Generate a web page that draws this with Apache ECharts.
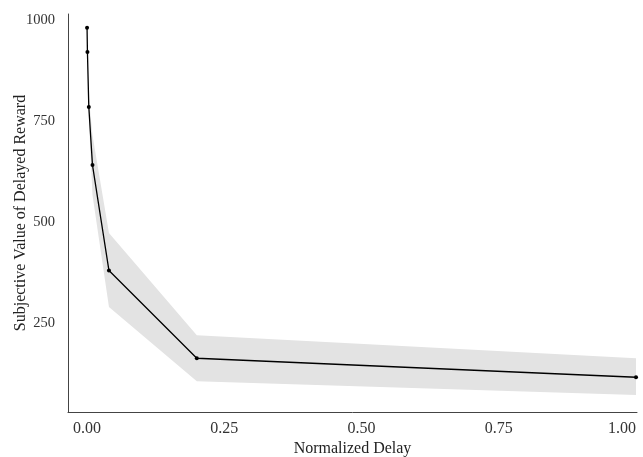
<!DOCTYPE html>
<html>
<head>
<meta charset="utf-8">
<script src="https://cdn.jsdelivr.net/npm/echarts@6/dist/echarts.min.js"></script>
<style>html,body{margin:0;padding:0;background:#fff}#c{width:643px;height:457px}</style>
</head>
<body>
<div id="c"></div>
<script>
const delay = [0.0001, 0.0008, 0.0033, 0.0100, 0.0400, 0.2000, 1.0000];
const value = [981, 921, 785, 641, 380, 163, 116];
const upper = [990, 935, 810, 715, 473, 220, 163];
const lower = [972, 907, 760, 567, 290, 106, 72];
const xTicks = [0, 0.25, 0.5, 0.75, 1.0];
const yTicks = [250, 500, 750, 1000];

const font = 'Liberation Serif, Times New Roman, serif';
const chart = echarts.init(document.getElementById('c'));
chart.setOption({
  animation: false,
  grid: { left: 68, right: 6, top: 14, bottom: 45, containLabel: false, outerBoundsMode: 'none' },
  xAxis: {
    type: 'value', min: -0.0346, max: 1.0018,
    name: 'Normalized Delay', nameLocation: 'middle', nameGap: 29, nameMoveOverlap: false,
    nameTextStyle: { fontFamily: font, fontSize: 16, color: '#222' },
    axisLine: { show: true, onZero: false, lineStyle: { color: '#444', width: 1 } },
    axisTick: { show: false },
    splitLine: { show: false },
    axisLabel: {
      customValues: xTicks, fontFamily: font, fontSize: 16, color: '#333', margin: 9,
      alignMaxLabel: 'right',
      formatter: v => v.toFixed(2)
    }
  },
  yAxis: {
    type: 'value', min: 30, max: 1015,
    name: 'Subjective Value of Delayed Reward', nameLocation: 'middle', nameGap: 39, nameMoveOverlap: false,
    nameTextStyle: { fontFamily: font, fontSize: 16, color: '#222' },
    axisLine: { show: true, onZero: false, lineStyle: { color: '#444', width: 1 } },
    axisTick: { show: false },
    splitLine: { show: false },
    axisLabel: {
      customValues: yTicks, fontFamily: font, fontSize: 14.5, color: '#333', margin: 13,
      formatter: v => String(v)
    }
  },
  series: [
    {
      type: 'custom',
      z: 1,
      silent: true,
      data: [[0, 0]],
      renderItem: function (params, api) {
        const pts = [];
        for (let i = 0; i < delay.length; i++) pts.push(api.coord([delay[i], upper[i]]));
        for (let i = delay.length - 1; i >= 0; i--) pts.push(api.coord([delay[i], lower[i]]));
        return { type: 'polygon', shape: { points: pts }, style: { fill: '#e3e3e3' } };
      }
    },
    {
      type: 'line',
      z: 3,
      data: delay.map((d, i) => [d, value[i]]),
      symbol: 'circle', symbolSize: 4,
      itemStyle: { color: '#000' },
      lineStyle: { color: '#000', width: 1.3 }
    }
  ]
});
</script>
</body>
</html>
